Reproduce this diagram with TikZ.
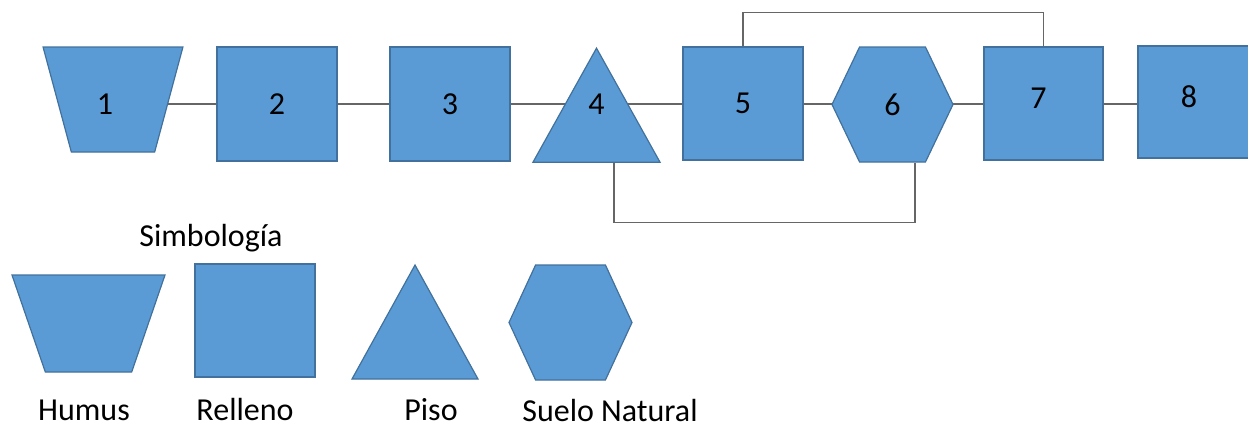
\documentclass[tikz,border=0pt]{standalone}
\usepackage{fontspec}
\setmainfont{Carlito}
\usetikzlibrary{shapes.geometric, shapes.symbols, backgrounds, calc}
\definecolor{soilblue}{HTML}{5B9BD5}
\definecolor{soiledge}{HTML}{41719C}
\definecolor{linkgray}{HTML}{666666}

\begin{document}
\begin{tikzpicture}[x=1pt, y=-1pt,
  layer/.style={fill=soilblue, draw=soiledge, line width=1.2pt, inner sep=0pt,
    font=\fontsize{32}{38}\selectfont},
  relleno/.style={layer, rectangle, minimum width=120pt, minimum height=114pt},
  humus/.style={layer, trapezium, shape border rotate=180, trapezium stretches=true,
    trapezium left angle=#1, trapezium right angle=#1},
  piso/.style={layer, isosceles triangle, isosceles triangle stretches=true,
    shape border rotate=90, yshift=-22pt},
  suelo/.style={layer, signal, signal to=west and east, signal pointer angle=#1},
  every label/.style={font=\fontsize{32}{38}\selectfont, inner sep=0pt},
  link/.style={draw=linkgray, line width=1.2pt},
  caption/.style={font=\fontsize{32}{38}\selectfont, anchor=base}]
\useasboundingbox (0,0) rectangle (1248,423);

% secuencia de capas
\node[humus=75.3, minimum width=140pt, minimum height=105pt, label={[xshift=-8pt,yshift=-5pt]center:1}] (n1) at (113,99.5) {\phantom{0}};
\node[relleno] (n2) at (277,104) {2};
\node[relleno] (n3) at (450,104) {3};
\node[piso, minimum width=127pt, minimum height=114pt, label={[yshift=22pt]center:4}] (n4) at (596.5,104) {\phantom{0}};
\node[relleno, minimum height=113pt] (n5) at (743,103.5) {5};
\node[suelo=128.8, minimum width=121pt, minimum height=115pt] (n6) at (892.5,104.5) {6};
\node[relleno, minimum width=119pt, minimum height=113pt, label={[xshift=-5pt,yshift=5pt]center:7}] (n7) at (1043.5,103.5) {\phantom{0}};
\node[relleno, minimum width=112pt, minimum height=112pt, label={[xshift=-5pt,yshift=5pt]center:8}] (n8) at (1194,102) {\phantom{0}};

\begin{scope}[on background layer]
\foreach \a/\b in {1/2,2/3,3/4,4/5,5/6,6/7,7/8}
  \draw[link] (n\a.center |- n2.center) -- (n\b.center |- n2.center);
\end{scope}

% lazos
\draw[link] (n5.north) -- ++(0,-34) -| (n7.north);
\coordinate (b4) at ([xshift=17.5pt]n4.south);
\coordinate (b6) at ([xshift=22.5pt]n6.south);
\draw[link] (b4) -- ++(0,60) -| (b6);

% simbologia
\node[caption] (tit) at (211,246) {Simbología};
\node[humus=73.4, minimum width=153pt, minimum height=97pt] (s1) at (88.5,323.5) {\phantom{0}};
\node[relleno, minimum height=113pt] (s2) at (255,320.5) {};
\node[piso, minimum width=126pt, minimum height=114pt] (s3) at (415,321) {\phantom{0}};
\node[suelo=130.4, minimum width=123pt, minimum height=115pt] (s4) at (570.5,322.5) {\phantom{0}};
\node[caption] (t1) at (84,420) {Humus};
\node[caption] (t2) at (245,420) {Relleno};
\node[caption] (t3) at (431,420) {Piso};
\node[caption] (t4) at (610,421) {Suelo Natural};
\end{tikzpicture}
\end{document}
